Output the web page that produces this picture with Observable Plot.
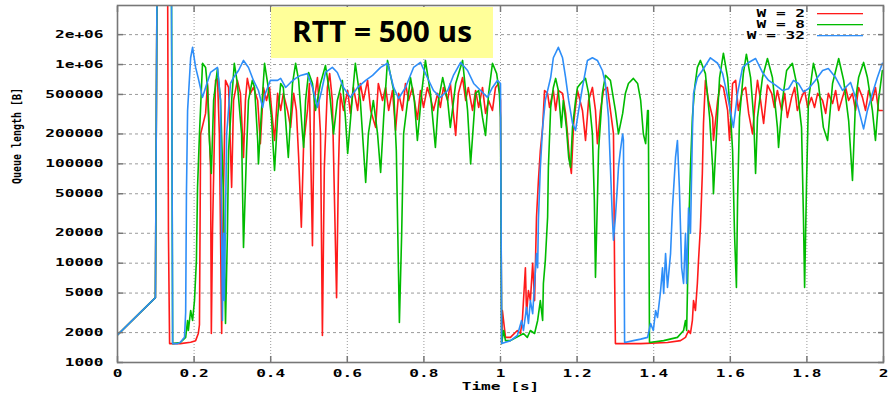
<!DOCTYPE html>
<html><head><meta charset="utf-8">
<script src="https://cdn.jsdelivr.net/npm/d3@7"></script>
<script src="https://cdn.jsdelivr.net/npm/@observablehq/plot@0.6"></script>
<style>
body{margin:0;background:#fff;}
#wrap{position:relative;width:889px;height:400px;}
#wrap svg{display:block;}
</style></head>
<body><div id="wrap"></div>
<script>
const xTicks = [0,0.2,0.4,0.6,0.8,1,1.2,1.4,1.6,1.8,2];
const xTickLabels = ["0","0.2","0.4","0.6","0.8","1","1.2","1.4","1.6","1.8","2"];
const yTicks = [1000,2000,5000,10000,20000,50000,100000,200000,500000,1000000,2000000];
const yTickLabels = ["1000","2000","5000","10000","20000","50000","100000","200000","500000","1e+06","2e+06"];
const seriesNames = ["W = 2","W = 8","W = 32"];
const seriesColors = ["#ff1a1a","#00bb00","#2e8ef8"];
const xTitle = "Time [s]";
const yTitle = "Queue length [B]";
const boxTitle = "RTT = 500 us";

// [time (s), queue length (B)]
const seriesW2 = [[0,1900],[0.099,4500],[0.103,5e6],[0.131,5e6],[0.133,20000],[0.136,1550],[0.164,1550],[0.191,1600],[0.204,1660],[0.211,1960],[0.214,2400],[0.217,200000],[0.230,322000],[0.235,645000],[0.238,322000],[0.243,92000],[0.245,1960],[0.248,20000],[0.256,692000],[0.261,725000],[0.266,200000],[0.272,1960],[0.274,13000],[0.282,692000],[0.290,588000],[0.298,58000],[0.303,435000],[0.313,692000],[0.321,512000],[0.329,116000],[0.334,435000],[0.339,725000],[0.347,512000],[0.355,588000],[0.366,435000],[0.373,160000],[0.381,588000],[0.389,435000],[0.397,588000],[0.405,273000],[0.410,172000],[0.418,512000],[0.426,345000],[0.433,512000],[0.444,345000],[0.452,233000],[0.460,512000],[0.467,345000],[0.473,116000],[0.480,23000],[0.486,160000],[0.496,345000],[0.501,645000],[0.509,15000],[0.514,435000],[0.522,740000],[0.530,200000],[0.535,1870],[0.540,92000],[0.548,588000],[0.554,810000],[0.561,435000],[0.572,4500],[0.577,92000],[0.582,512000],[0.590,345000],[0.601,548000],[0.608,322000],[0.616,588000],[0.627,345000],[0.634,645000],[0.642,435000],[0.653,692000],[0.661,345000],[0.674,233000],[0.681,645000],[0.692,435000],[0.700,588000],[0.708,345000],[0.718,548000],[0.726,217000],[0.734,512000],[0.744,345000],[0.752,645000],[0.760,435000],[0.770,588000],[0.783,280000],[0.791,548000],[0.799,370000],[0.809,588000],[0.817,467000],[0.825,345000],[0.836,512000],[0.843,370000],[0.851,588000],[0.862,435000],[0.869,645000],[0.883,193000],[0.890,512000],[0.901,740000],[0.909,435000],[0.916,588000],[0.927,345000],[0.935,548000],[0.943,370000],[0.953,588000],[0.961,322000],[0.969,435000],[0.979,345000],[0.987,588000],[0.995,645000],[1.000,435000],[1.003,1550],[1.005,3340],[1.013,1790],[1.026,1790],[1.044,2100],[1.052,1960],[1.057,2650],[1.065,9000],[1.068,3100],[1.073,5300],[1.078,4200],[1.084,10000],[1.089,4200],[1.094,29000],[1.099,68000],[1.104,136000],[1.110,233000],[1.115,548000],[1.123,512000],[1.128,370000],[1.138,548000],[1.144,345000],[1.151,548000],[1.162,512000],[1.170,322000],[1.175,200000],[1.180,110000],[1.185,80000],[1.191,255000],[1.201,548000],[1.214,345000],[1.222,172000],[1.230,435000],[1.240,588000],[1.248,345000],[1.253,160000],[1.261,345000],[1.269,548000],[1.279,588000],[1.287,345000],[1.295,200000],[1.298,7200],[1.300,1550],[1.366,1550],[1.436,1590],[1.470,1660],[1.483,1790],[1.491,2100],[1.496,1960],[1.501,2650],[1.504,4200],[1.509,3340],[1.514,6250],[1.517,10600],[1.522,23000],[1.527,80000],[1.530,255000],[1.535,692000],[1.543,435000],[1.554,293000],[1.556,172000],[1.567,435000],[1.574,620000],[1.582,588000],[1.593,345000],[1.598,172000],[1.606,645000],[1.614,692000],[1.621,345000],[1.632,548000],[1.640,588000],[1.648,322000],[1.658,200000],[1.666,467000],[1.671,692000],[1.679,435000],[1.687,255000],[1.697,620000],[1.708,512000],[1.715,370000],[1.723,548000],[1.734,345000],[1.742,512000],[1.749,293000],[1.760,467000],[1.768,588000],[1.775,345000],[1.786,467000],[1.794,548000],[1.802,370000],[1.812,467000],[1.820,370000],[1.828,512000],[1.841,435000],[1.849,322000],[1.856,512000],[1.867,405000],[1.875,548000],[1.883,345000],[1.893,467000],[1.901,588000],[1.909,435000],[1.919,512000],[1.927,345000],[1.935,588000],[1.945,467000],[1.953,345000],[1.961,548000],[1.971,435000],[1.979,588000],[1.987,345000],[1.997,345000]];

const seriesW8 = [[0,1900],[0.099,4500],[0.103,5e6],[0.141,5e6],[0.144,1550],[0.164,1590],[0.178,1790],[0.183,2650],[0.185,2100],[0.191,3340],[0.196,2650],[0.201,4200],[0.206,10600],[0.209,58000],[0.214,200000],[0.222,1030000],[0.230,935000],[0.235,588000],[0.240,172000],[0.245,80000],[0.251,435000],[0.261,910000],[0.269,435000],[0.277,43000],[0.282,2470],[0.287,20000],[0.290,136000],[0.298,435000],[0.305,1030000],[0.313,645000],[0.324,200000],[0.329,14400],[0.337,136000],[0.342,435000],[0.352,692000],[0.358,588000],[0.366,172000],[0.368,100000],[0.376,345000],[0.384,1030000],[0.392,645000],[0.402,293000],[0.410,86000],[0.418,293000],[0.426,645000],[0.433,588000],[0.444,146000],[0.446,116000],[0.457,645000],[0.465,1030000],[0.473,692000],[0.483,200000],[0.486,146000],[0.491,435000],[0.499,832000],[0.509,645000],[0.517,345000],[0.530,645000],[0.543,980000],[0.554,512000],[0.564,200000],[0.574,435000],[0.587,692000],[0.595,293000],[0.601,127000],[0.614,512000],[0.621,1030000],[0.634,435000],[0.648,65000],[0.655,200000],[0.668,435000],[0.679,200000],[0.687,82000],[0.695,293000],[0.705,1100000],[0.721,548000],[0.728,136000],[0.736,2530],[0.742,20000],[0.747,200000],[0.765,740000],[0.775,435000],[0.783,172000],[0.794,512000],[0.804,1100000],[0.817,512000],[0.830,146000],[0.838,435000],[0.849,740000],[0.862,435000],[0.869,233000],[0.883,645000],[0.901,1100000],[0.914,345000],[0.922,100000],[0.935,512000],[0.943,548000],[0.953,293000],[0.961,193000],[0.969,512000],[0.979,1030000],[0.990,810000],[0.997,512000],[1.000,293000],[1.003,1550],[1.008,2100],[1.013,1660],[1.026,1660],[1.060,1960],[1.070,1790],[1.078,2100],[1.089,1960],[1.097,2650],[1.104,4200],[1.110,2650],[1.112,6250],[1.117,10600],[1.123,29000],[1.125,92000],[1.131,370000],[1.138,588000],[1.144,725000],[1.151,548000],[1.159,233000],[1.164,435000],[1.172,233000],[1.178,116000],[1.183,92000],[1.188,233000],[1.196,435000],[1.201,588000],[1.209,645000],[1.222,725000],[1.230,512000],[1.240,200000],[1.245,43000],[1.248,7200],[1.253,43000],[1.256,136000],[1.266,512000],[1.274,777000],[1.287,692000],[1.300,345000],[1.308,200000],[1.319,322000],[1.326,512000],[1.334,645000],[1.347,725000],[1.358,645000],[1.366,435000],[1.373,200000],[1.379,160000],[1.384,345000],[1.386,345000],[1.389,1590],[1.426,1660],[1.462,1790],[1.478,2100],[1.483,2650],[1.486,2100],[1.488,4950],[1.491,20000],[1.496,92000],[1.501,293000],[1.507,588000],[1.514,935000],[1.522,1100000],[1.535,810000],[1.546,293000],[1.554,92000],[1.556,50000],[1.564,200000],[1.572,740000],[1.582,1300000],[1.593,740000],[1.601,293000],[1.606,136000],[1.611,20000],[1.616,5700],[1.619,43000],[1.624,293000],[1.634,810000],[1.642,1270000],[1.653,740000],[1.661,293000],[1.666,80000],[1.671,293000],[1.684,740000],[1.697,1150000],[1.710,740000],[1.723,233000],[1.726,146000],[1.736,435000],[1.747,871000],[1.762,1030000],[1.773,645000],[1.786,233000],[1.791,29000],[1.794,5700],[1.799,62000],[1.804,435000],[1.817,1030000],[1.830,645000],[1.843,233000],[1.854,172000],[1.867,645000],[1.883,1150000],[1.896,692000],[1.909,273000],[1.919,68000],[1.927,435000],[1.935,740000],[1.948,1050000],[1.958,740000],[1.971,345000],[1.979,172000],[1.987,435000],[1.997,871000]];

const seriesW32 = [[0,1900],[0.099,4500],[0.103,5e6],[0.141,5e6],[0.144,1550],[0.157,1550],[0.164,1600],[0.170,1700],[0.175,1800],[0.178,3200],[0.180,50000],[0.183,345000],[0.191,1170000],[0.196,1490000],[0.204,935000],[0.211,725000],[0.222,467000],[0.230,588000],[0.243,832000],[0.261,935000],[0.269,435000],[0.274,2650],[0.277,20000],[0.279,4200],[0.285,200000],[0.295,645000],[0.303,740000],[0.316,871000],[0.329,1100000],[0.342,935000],[0.355,692000],[0.368,548000],[0.379,370000],[0.386,512000],[0.399,692000],[0.418,692000],[0.426,725000],[0.439,588000],[0.452,660000],[0.465,725000],[0.478,777000],[0.496,810000],[0.509,588000],[0.522,370000],[0.533,548000],[0.543,832000],[0.561,935000],[0.574,832000],[0.590,588000],[0.608,467000],[0.627,588000],[0.648,692000],[0.666,777000],[0.687,935000],[0.705,1030000],[0.721,588000],[0.734,455000],[0.752,588000],[0.773,935000],[0.791,1050000],[0.809,740000],[0.825,548000],[0.843,467000],[0.862,548000],[0.877,777000],[0.896,1050000],[0.914,871000],[0.930,645000],[0.948,548000],[0.966,467000],[0.979,588000],[0.992,692000],[1.000,645000],[1.003,1550],[1.026,1660],[1.044,1870],[1.055,2650],[1.060,2100],[1.068,3600],[1.073,2470],[1.078,4200],[1.084,3100],[1.089,6250],[1.094,12500],[1.097,9000],[1.099,27000],[1.104,92000],[1.110,233000],[1.117,435000],[1.131,740000],[1.138,1170000],[1.151,1490000],[1.162,1170000],[1.170,740000],[1.178,435000],[1.188,255000],[1.196,217000],[1.204,345000],[1.214,588000],[1.227,1100000],[1.240,1170000],[1.253,1100000],[1.266,871000],[1.274,645000],[1.282,293000],[1.287,92000],[1.292,29000],[1.295,17000],[1.300,29000],[1.305,58000],[1.308,92000],[1.313,136000],[1.319,200000],[1.321,172000],[1.324,1590],[1.347,1660],[1.366,1720],[1.384,1790],[1.392,2470],[1.399,2100],[1.405,3340],[1.410,2840],[1.418,5300],[1.423,9000],[1.426,4950],[1.431,12500],[1.436,5700],[1.444,12500],[1.449,36000],[1.457,116000],[1.462,172000],[1.467,58000],[1.473,9000],[1.478,6250],[1.483,20000],[1.486,6250],[1.491,36000],[1.496,20000],[1.501,200000],[1.504,512000],[1.514,740000],[1.527,871000],[1.548,1170000],[1.567,1030000],[1.580,810000],[1.595,435000],[1.608,233000],[1.619,512000],[1.632,935000],[1.648,1050000],[1.666,1150000],[1.684,832000],[1.700,692000],[1.718,620000],[1.736,548000],[1.752,570000],[1.765,692000],[1.778,645000],[1.791,530000],[1.804,570000],[1.822,692000],[1.841,871000],[1.856,910000],[1.875,740000],[1.893,548000],[1.914,660000],[1.927,467000],[1.948,225000],[1.958,345000],[1.971,512000],[1.984,740000],[1.997,1030000]];

const xLabel = new Map(xTicks.map((d, i) => [d, xTickLabels[i]]));
const yLabel = new Map(yTicks.map((d, i) => [d, yTickLabels[i]]));
const allSeries = [seriesW2, seriesW8, seriesW32];
const border = "#777777";

const chart = Plot.plot({
  width: 889, height: 400,
  marginLeft: 117, marginRight: 6, marginTop: 5, marginBottom: 38,
  x: {domain: [0, 2]},
  y: {type: "log", domain: [1000, 3.93e6]},
  style: {fontFamily: "'DejaVu Sans Mono', monospace", fontSize: "10px", fontWeight: "bold", background: "#fff", color: "#000"},
  marks: [
    Plot.gridY(yTicks.filter(d => d > 1000), {stroke: "#9a9a9a", strokeOpacity: 1, strokeDasharray: "3,3"}),
    Plot.gridX(xTicks.filter(d => d > 0 && d < 2), {stroke: "#9a9a9a", strokeOpacity: 1, strokeDasharray: "1,2"}),
    ...allSeries.map((s, i) => Plot.line(s, {x: d => d[0], y: d => d[1], stroke: seriesColors[i], strokeWidth: 1.6, clip: true})),
    Plot.frame({stroke: border, strokeWidth: 1.6}),
    Plot.axisY(yTicks, {anchor: "left", tickSize: 6, dx: 6, text: () => "", label: null, stroke: border, strokeWidth: 1.5}),
    Plot.axisY(yTicks, {anchor: "right", tickSize: 6, dx: -6, text: () => "", label: null, stroke: border, strokeWidth: 1.5}),
    Plot.axisX(xTicks, {anchor: "bottom", tickSize: 6, dy: -6, text: () => "", label: null, stroke: border, strokeWidth: 1.5}),
    Plot.axisX(xTicks, {anchor: "top", tickSize: 6, dy: 6, text: () => "", label: null, stroke: border, strokeWidth: 1.5}),
    Plot.axisY(yTicks, {anchor: "left", tickSize: 0, tickPadding: 14, text: d => yLabel.get(d), label: null}),
    Plot.axisX(xTicks, {anchor: "bottom", tickSize: 0, tickPadding: 7, text: d => xLabel.get(d), label: null}),
    Plot.text([xTitle], {frameAnchor: "bottom", dy: 27, text: d => d}),
    Plot.text([yTitle], {frameAnchor: "left", dx: -100, rotate: -90, text: d => d, fontSize: 12})
  ]
});

document.getElementById("wrap").appendChild(chart);

const svg = d3.select(chart);
const labelSet = new Set([...xTickLabels, ...yTickLabels]);
svg.selectAll("text").each(function() {
  const t = this.textContent;
  if (labelSet.has(t) || t === xTitle) {
    this.setAttribute("textLength", t.length * 9.7);
    this.setAttribute("lengthAdjust", "spacingAndGlyphs");
  } else if (t === yTitle) {
    this.setAttribute("textLength", 96);
    this.setAttribute("lengthAdjust", "spacingAndGlyphs");
  }
});

// legend (top right, inside the plot frame)
const lg = svg.append("g").attr("font-family", "'DejaVu Sans Mono', monospace").attr("font-weight", "bold").attr("font-size", 10);
seriesNames.forEach((name, i) => {
  const cy = 13 + i * 11;
  lg.append("text").attr("x", 805).attr("y", cy + 4).attr("text-anchor", "end")
    .attr("textLength", name.length * 9.7).attr("lengthAdjust", "spacingAndGlyphs").text(name);
  lg.append("rect").attr("x", 817).attr("y", cy).attr("width", 46).attr("height", 1.3)
    .attr("fill", seriesColors[i]);
});

// yellow title box
const tb = svg.append("g");
tb.append("rect").attr("x", 271).attr("y", 7).attr("width", 222).attr("height", 51).attr("fill", "#ffff99");
tb.append("text").attr("x", 382).attr("y", 42).attr("text-anchor", "middle")
  .attr("font-family", "'Open Sans', sans-serif").attr("font-weight", 700).attr("font-size", 28)
  .attr("textLength", 180).attr("lengthAdjust", "spacingAndGlyphs").text(boxTitle);
</script>
</body></html>
